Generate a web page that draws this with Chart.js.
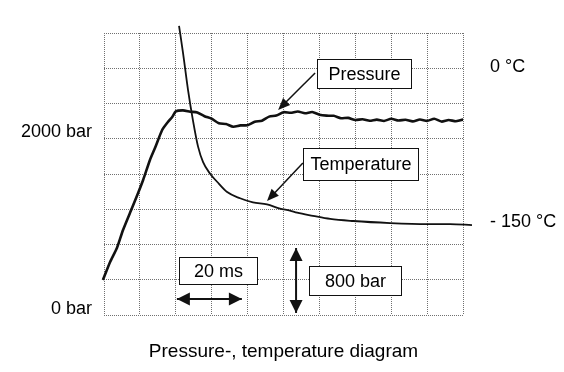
<!DOCTYPE html>
<html>
<head>
<meta charset="utf-8">
<script src="https://cdn.jsdelivr.net/npm/chart.js@4"></script>
<style>
  html, body { margin: 0; padding: 0; background: #fff; }
  #wrap { width: 564px; height: 372px; }
</style>
</head>
<body>
<div id="wrap"><canvas id="diagram"></canvas></div>
<script>
// values
// x = time (ms), pressure in bar, temperature in deg C
const pressureTime = [-0.3, 1.7, 3.6, 5.3, 7.8, 9.5, 10.9, 12.8, 14.2, 16.2, 17.8, 19, 20, 22, 24, 26, 28, 30, 32, 34, 36, 38, 40, 42, 44, 46, 48, 50, 52, 54, 56, 58, 60, 62, 64, 66, 68, 70, 72, 74, 76, 78, 80, 82, 84, 86, 88, 90, 92, 94, 96, 98, 100, 102.5];
const pressureBar = [328, 531, 689, 893, 1141, 1311, 1458, 1684, 1819, 2023, 2113, 2170, 2232, 2244, 2230, 2221, 2178, 2150, 2098, 2090, 2060, 2075, 2076, 2115, 2128, 2174, 2186, 2224, 2217, 2232, 2212, 2226, 2196, 2185, 2183, 2155, 2160, 2135, 2145, 2128, 2140, 2125, 2150, 2130, 2138, 2120, 2142, 2126, 2150, 2118, 2135, 2122, 2140, 2126];

const tempTime = [20.9, 22.0, 23.4, 24.8, 26.2, 27.6, 29.5, 31.5, 34.3, 37.9, 41.5, 45.4, 49.0, 51.8, 53.8, 58.2, 63.0, 69.4, 79.7, 90.0, 96.4, 102.5];
const tempC = [40, 14, -22, -52, -77, -92, -103, -111, -121, -127, -131, -133, -137, -139, -141, -144, -147, -149, -151, -152, -152, -153];

const pressureTicks = [0, 2000];
const tempTicks = [0, -150];
const titleText = 'Pressure-, temperature diagram';

const textFont = "'Liberation Sans', Arial, sans-serif";
const ink = '#111';

// callout boxes and arrows, placed in (ms, bar)
const boxes = [
  { text: 'Pressure', x1: 59.3, x2: 85.5, y1: 2825, y2: 2497 },
  { text: 'Temperature', x1: 55.4, x2: 87.5, y1: 1819, y2: 1458 },
  { text: '20 ms', x1: 20.9, x2: 42.6, y1: 588, y2: 282 },
  { text: '800 bar', x1: 57.1, x2: 82.7, y1: 486, y2: 158 }
];
const pointers = [
  { x1: 58.8, y1: 2667, x2: 48.5, y2: 2249 },
  { x1: 55.4, y1: 1650, x2: 45.4, y2: 1220 }
];
const spans = [
  { x1: 20.3, y1: 113, x2: 38.4, y2: 113 },
  { x1: 53.5, y1: 689, x2: 53.5, y2: -45 }
];

function arrowHead(ctx, fx, fy, tx, ty, len, half) {
  let a = Math.atan2(ty - fy, tx - fx);
  ctx.beginPath();
  ctx.moveTo(tx, ty);
  ctx.lineTo(tx - len * Math.cos(a) + half * Math.sin(a), ty - len * Math.sin(a) - half * Math.cos(a));
  ctx.lineTo(tx - len * Math.cos(a) - half * Math.sin(a), ty - len * Math.sin(a) + half * Math.cos(a));
  ctx.closePath();
  ctx.fill();
}

const calloutPlugin = {
  id: 'callouts',
  afterDatasetsDraw(chart) {
    const ctx = chart.ctx;
    const xs = chart.scales.x;
    const ys = chart.scales.yP;
    ctx.save();
    ctx.strokeStyle = ink;
    ctx.fillStyle = ink;

    // pointer arrows
    ctx.lineWidth = 1.5;
    pointers.forEach(p => {
      let fx = xs.getPixelForValue(p.x1), fy = ys.getPixelForValue(p.y1);
      let tx = xs.getPixelForValue(p.x2), ty = ys.getPixelForValue(p.y2);
      let a = Math.atan2(ty - fy, tx - fx);
      ctx.beginPath();
      ctx.moveTo(fx, fy);
      ctx.lineTo(tx - 8 * Math.cos(a), ty - 8 * Math.sin(a));
      ctx.stroke();
      arrowHead(ctx, fx, fy, tx, ty, 12, 5);
    });

    // double arrows
    ctx.lineWidth = 2;
    spans.forEach(s => {
      let ax = xs.getPixelForValue(s.x1), ay = ys.getPixelForValue(s.y1);
      let bx = xs.getPixelForValue(s.x2), by = ys.getPixelForValue(s.y2);
      ctx.beginPath();
      ctx.moveTo(ax, ay);
      ctx.lineTo(bx, by);
      ctx.stroke();
      arrowHead(ctx, bx, by, ax, ay, 13, 6.5);
      arrowHead(ctx, ax, ay, bx, by, 13, 6.5);
    });

    // boxes
    ctx.lineWidth = 1;
    ctx.font = '18px ' + textFont;
    ctx.textAlign = 'center';
    ctx.textBaseline = 'middle';
    boxes.forEach(b => {
      let l = Math.round(xs.getPixelForValue(b.x1)) + 0.5;
      let r = Math.round(xs.getPixelForValue(b.x2)) + 0.5;
      let t = Math.round(ys.getPixelForValue(b.y1)) + 0.5;
      let bt = Math.round(ys.getPixelForValue(b.y2)) + 0.5;
      ctx.fillStyle = '#fff';
      ctx.fillRect(l, t, r - l, bt - t);
      ctx.strokeRect(l, t, r - l, bt - t);
      ctx.fillStyle = '#000';
      ctx.fillText(b.text, (l + r) / 2, (t + bt) / 2 + 1);
    });
    ctx.restore();
  }
};

// dotted scope grid (v4 takes the grid dash from border.dash)
const gridStyle = {
  color: '#707070',
  lineWidth: 1,
  drawTicks: false
};
const gridBorder = { display: false, dash: [1, 1] };

let diagramCanvas = document.getElementById('diagram');

let diagramData = {
  datasets: [{
    label: 'Pressure',
    data: pressureTime.map((t, i) => ({ x: t, y: pressureBar[i] })),
    yAxisID: 'yP',
    borderColor: ink,
    borderWidth: 2.6,
    pointRadius: 0,
    tension: 0.2,
    clip: false
  }, {
    label: 'Temperature',
    data: tempTime.map((t, i) => ({ x: t, y: tempC[i] })),
    yAxisID: 'yT',
    borderColor: ink,
    borderWidth: 1.8,
    pointRadius: 0,
    cubicInterpolationMode: 'monotone',
    clip: false
  }]
};

let diagramOptions = {
  responsive: true,
  maintainAspectRatio: false,
  animation: false,
  layout: {
    padding: { top: 33, left: 0, right: 0, bottom: 0 }
  },
  scales: {
    x: {
      type: 'linear',
      min: 0,
      max: 100,
      ticks: { display: false, stepSize: 10 },
      grid: gridStyle,
      border: gridBorder,
      title: {
        display: true,
        text: titleText,
        color: '#000',
        font: { family: textFont, size: 19 },
        padding: { top: 0, bottom: 9 }
      },
      afterFit(scale) { scale.height = 57; }
    },
    yGrid: {
      position: 'left',
      min: 0,
      max: 8,
      ticks: { display: false, stepSize: 1 },
      grid: gridStyle,
      border: gridBorder,
      afterFit(scale) { scale.width = 0; }
    },
    yP: {
      position: 'left',
      min: -68,
      max: 3119,
      afterBuildTicks(scale) { scale.ticks = pressureTicks.map(v => ({ value: v })); },
      ticks: {
        color: '#000',
        padding: 12,
        font: { family: textFont, size: 18 },
        callback: v => v + ' bar'
      },
      grid: { display: false, drawTicks: false },
      border: { display: false },
      afterFit(scale) {
        scale.width = 104;
        scale.paddingTop = 0;
        scale.paddingBottom = 0;
      }
    },
    yT: {
      position: 'right',
      min: -240,
      max: 33,
      afterBuildTicks(scale) { scale.ticks = tempTicks.map(v => ({ value: v })); },
      ticks: {
        color: '#000',
        padding: 27,
        font: { family: textFont, size: 18 },
        callback: v => (v < 0 ? '- ' + Math.abs(v) : v) + ' \u00b0C'
      },
      grid: { display: false, drawTicks: false },
      border: { display: false },
      afterFit(scale) {
        scale.width = 101;
        scale.paddingTop = 0;
        scale.paddingBottom = 0;
      }
    }
  },
  plugins: {
    legend: { display: false },
    tooltip: { enabled: false }
  }
};

let diagramChart = new Chart(diagramCanvas, {
  type: 'line',
  data: diagramData,
  options: diagramOptions,
  plugins: [calloutPlugin]
});
</script>
</body>
</html>
